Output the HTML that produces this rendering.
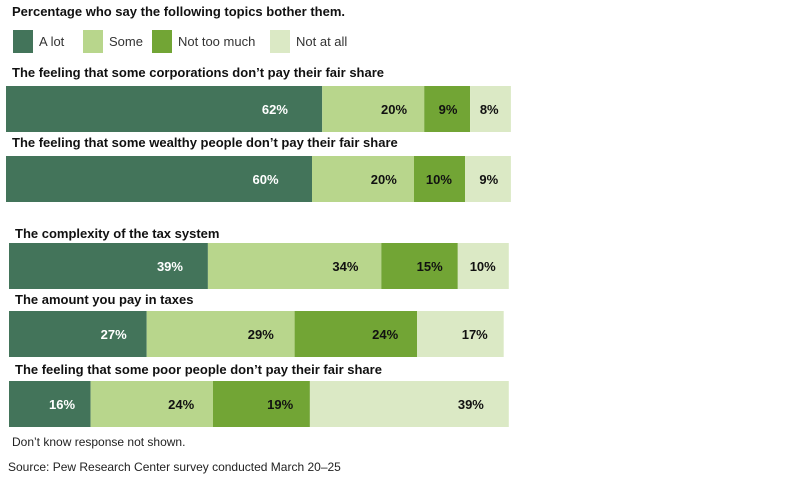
<!DOCTYPE html>
<html><head><meta charset="utf-8"><style>
body{margin:0;background:#fff;font-family:"Liberation Sans",sans-serif}
svg text{font-family:"Liberation Sans",sans-serif}
</style></head><body>
<svg id="chart" width="794" height="495">
<text x="12" y="16" font-size="13" font-weight="bold" fill="#111">Percentage who say the following topics bother them.</text>
<g id="legend"></g>
<g id="bars"></g>
<text x="12" y="446" font-size="12" fill="#222">Don’t know response not shown.</text>
<text x="8" y="471" font-size="12" fill="#222">Source: Pew Research Center survey conducted March 20–25</text>
</svg>
<script>
const categories=["The feeling that some corporations don’t pay their fair share","The feeling that some wealthy people don’t pay their fair share","The complexity of the tax system","The amount you pay in taxes","The feeling that some poor people don’t pay their fair share"];
const seriesNames=["A lot","Some","Not too much","Not at all"];
const aLot=[62,60,39,27,16];
const some=[20,20,34,29,24];
const notTooMuch=[9,10,15,24,19];
const notAtAll=[8,9,10,17,39];
const colors=["#43745a","#b8d68c","#72a535","#dbe9c5"];
const textColors=["#fff","#111","#111","#111"];
const NS="http://www.w3.org/2000/svg";
const barTops=[86,156,243,311,381], barLeft=[6,6,9,9,9], barH=46, titleY=[77,147,238,304,374];
const scale=5.1;
const x=(v)=>v*scale;
const leg=document.getElementById('legend');
const legX=[13,83,152,270];
seriesNames.forEach((n,i)=>{
 const r=document.createElementNS(NS,'rect');
 r.setAttribute('x',legX[i]);r.setAttribute('y',30);r.setAttribute('width',20);r.setAttribute('height',23);r.setAttribute('fill',colors[i]);
 
 
 leg.appendChild(r);
 const t=document.createElementNS(NS,'text');
 t.setAttribute('x',legX[i]+26);t.setAttribute('y',46);t.setAttribute('font-size','13');t.setAttribute('fill','#333');t.textContent=n;
 
 
 leg.appendChild(t);
});
const g=document.getElementById('bars');
const series=[aLot,some,notTooMuch,notAtAll];
categories.forEach((c,i)=>{
 const tt=document.createElementNS(NS,'text');
 tt.setAttribute('x',barLeft[i]+6);tt.setAttribute('y',titleY[i]);tt.setAttribute('font-size','13');tt.setAttribute('font-weight','bold');tt.setAttribute('fill','#111');tt.textContent=c;
 
 
 g.appendChild(tt);
 let cx=barLeft[i];
 series.forEach((s,j)=>{
  const w=x(s[i]);
  const r=document.createElementNS(NS,'rect');
  r.setAttribute('x',cx);r.setAttribute('y',barTops[i]);r.setAttribute('width',w);r.setAttribute('height',barH);r.setAttribute('fill',colors[j]);
  
  
  g.appendChild(r);
  const t=document.createElementNS(NS,'text');
  t.setAttribute('x',cx+w-(9+0.08*w));t.setAttribute('y',barTops[i]+barH/2+5);t.setAttribute('text-anchor','end');
  t.setAttribute('font-size','13');t.setAttribute('font-weight','bold');t.setAttribute('fill',textColors[j]);t.textContent=s[i]+'%';
  
  
  g.appendChild(t);
  cx+=w;
 });
});
</script>
</body></html>
